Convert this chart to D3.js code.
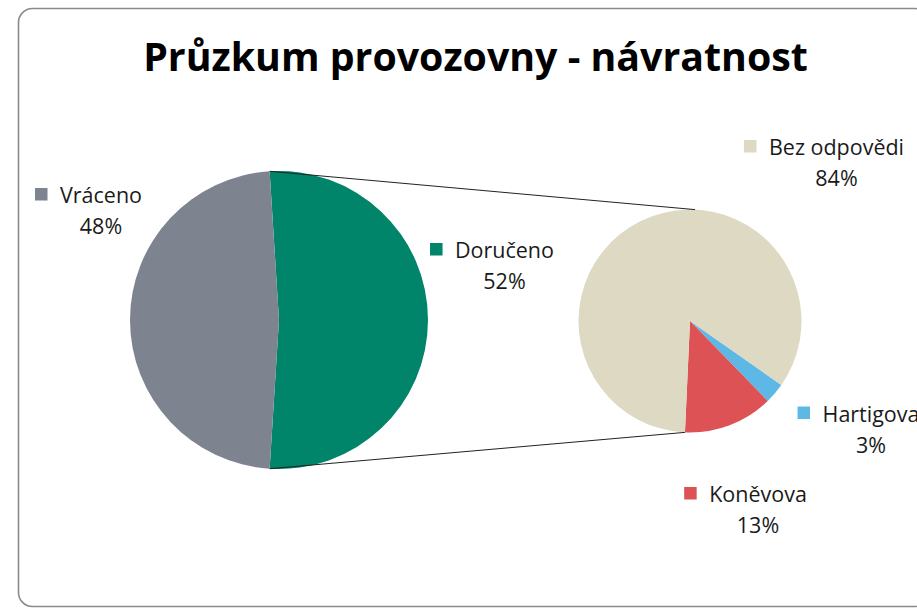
<!DOCTYPE html>
<html>
<head>
<meta charset="utf-8">
<script src="https://cdn.jsdelivr.net/npm/d3@7"></script>
<style>
  html, body { margin: 0; padding: 0; background: #fff; }
  svg { display: block; }
</style>
</head>
<body>
<svg id="chart" width="917" height="608"></svg>
<script>
// ---- data ----
const title = "Průzkum provozovny - návratnost";
const mainCategories = ["Doručeno", "Vráceno"];
const mainValues = [52, 48];
const mainLabels = ["52%", "48%"];
const subCategories = ["Hartigova", "Koněvova", "Bez odpovědi"];
const subValues = [3, 13, 84];
const subLabels = ["3%", "13%", "84%"];

// ---- style / layout ----
const colors = {
  "Doručeno": "#00846a",
  "Vráceno": "#7d838f",
  "Hartigova": "#5db8e6",
  "Koněvova": "#dd5355",
  "Bez odpovědi": "#ddd9c3"
};
const mainPie = { cx: 279, cy: 320, r: 149 };
const subPie = { cx: 690, cy: 321, r: 111.5, start: 125 * Math.PI / 180 };
// label anchors (center of name text, name baseline) relative to owning pie centre
const labelOffsets = {
  "Vráceno": [-178, -117],
  "Doručeno": [225.5, -62],
  "Bez odpovědi": [146.5, -166],
  "Hartigova": [181, 100.5],
  "Koněvova": [68, 181]
};
const font = "'Open Sans', 'Noto Sans', 'DejaVu Sans', sans-serif";

const svg = d3.select("#chart");

// border
svg.append("rect")
  .attr("x", 18.5).attr("y", 8.5)
  .attr("width", 910).attr("height", 598)
  .attr("rx", 14).attr("ry", 14)
  .attr("fill", "#fff")
  .attr("stroke", "#8a8a8a")
  .attr("stroke-width", 1.6);

// title (fit to reference width)
const t = svg.append("text")
  .attr("x", 475.5).attr("y", 71)
  .attr("text-anchor", "middle")
  .attr("font-family", font)
  .attr("font-weight", "bold")
  .attr("font-size", 36)
  .attr("fill", "#000")
  .text(title);
{
  const w = t.node().getComputedTextLength();
  t.attr("font-size", 36 * 665 / w);
}

// main pie
const greenFrac = mainValues[0] / d3.sum(mainValues);
const pieMain = d3.pie().sort(null)
  .startAngle(Math.PI / 2 - greenFrac * Math.PI)
  .endAngle(Math.PI / 2 - greenFrac * Math.PI + 2 * Math.PI);
const mainArcs = pieMain(mainValues);
const arcMain = d3.arc().innerRadius(0).outerRadius(mainPie.r);

const gMain = svg.append("g").attr("transform", `translate(${mainPie.cx},${mainPie.cy})`);
gMain.selectAll("path").data(mainArcs).join("path")
  .attr("d", arcMain)
  .attr("fill", (d, i) => colors[mainCategories[i]]);

// secondary pie
const pieSub = d3.pie().sort(null)
  .startAngle(subPie.start)
  .endAngle(subPie.start + 2 * Math.PI);
const subArcs = pieSub(subValues);
const arcSub = d3.arc().innerRadius(0).outerRadius(subPie.r);
const gSub = svg.append("g").attr("transform", `translate(${subPie.cx},${subPie.cy})`);
gSub.selectAll("path").data(subArcs).join("path")
  .attr("d", arcSub)
  .attr("fill", (d, i) => colors[subCategories[i]]);

// connector lines
function pt(c, r, a) { return [c.cx + r * Math.sin(a), c.cy - r * Math.cos(a)]; }
const g0 = mainArcs[0];
const redEnd = subArcs[1].endAngle;
const pTopMain = pt(mainPie, mainPie.r, g0.startAngle);
const pBotMain = pt(mainPie, mainPie.r, g0.endAngle);
const pTopSub = pt(subPie, subPie.r, redEnd - Math.PI);
const pBotSub = pt(subPie, subPie.r, redEnd);
svg.append("line")
  .attr("x1", pTopMain[0]).attr("y1", pTopMain[1])
  .attr("x2", pTopSub[0]).attr("y2", pTopSub[1])
  .attr("stroke", "#222").attr("stroke-width", 1);
svg.append("line")
  .attr("x1", pBotMain[0]).attr("y1", pBotMain[1])
  .attr("x2", pBotSub[0]).attr("y2", pBotSub[1])
  .attr("stroke", "#222").attr("stroke-width", 1);

// labels
// fit label font so "Doručeno" ~ 99px wide
const probe = svg.append("text").attr("font-family", font).attr("font-size", 20).text("Doručeno");
const labelSize = 20 * 99 / probe.node().getComputedTextLength();
probe.remove();

function addLabel(name, pct, center) {
  const off = labelOffsets[name];
  const x = center.cx + off[0], y = center.cy + off[1];
  const g = svg.append("g");
  const nameText = g.append("text")
    .attr("x", x).attr("y", y)
    .attr("text-anchor", "middle")
    .attr("font-family", font)
    .attr("font-size", labelSize)
    .attr("fill", "#1a1a1a")
    .text(name);
  const w = nameText.node().getComputedTextLength();
  g.append("rect")
    .attr("x", x - w / 2 - 25).attr("y", y - 15)
    .attr("width", 12.5).attr("height", 12.5)
    .attr("fill", colors[name]);
  g.append("text")
    .attr("x", x).attr("y", y + 31)
    .attr("text-anchor", "middle")
    .attr("font-family", font)
    .attr("font-size", labelSize)
    .attr("fill", "#1a1a1a")
    .text(pct);
}
mainCategories.forEach((c, i) => addLabel(c, mainLabels[i], mainPie));
subCategories.forEach((c, i) => addLabel(c, subLabels[i], subPie));
</script>
</body>
</html>
